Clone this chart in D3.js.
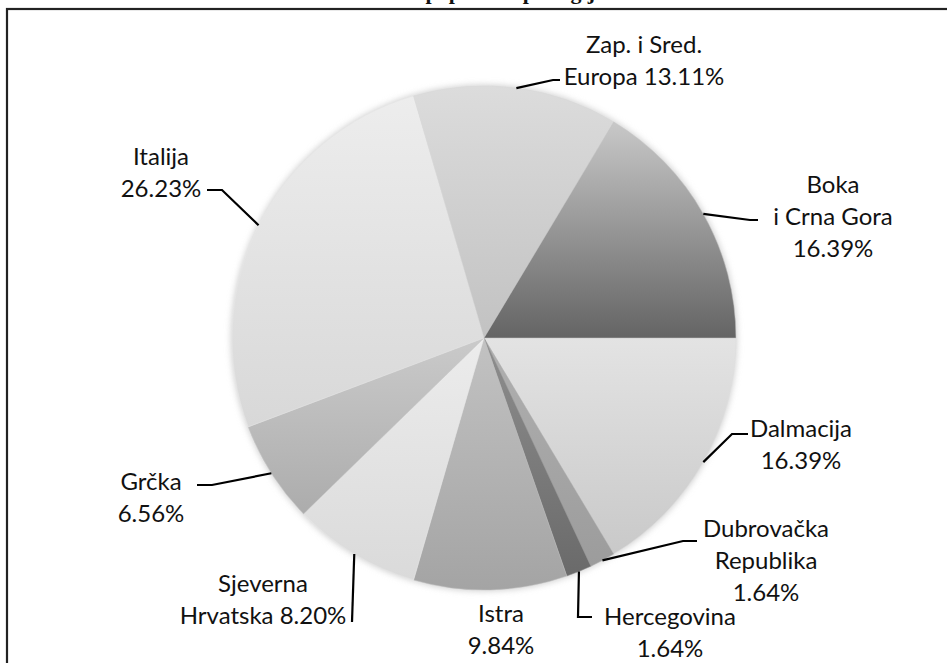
<!DOCTYPE html>
<html><head><meta charset="utf-8">
<script src="https://cdn.jsdelivr.net/npm/d3@7"></script>
<style>
html,body{margin:0;padding:0;background:#fff;}
svg{display:block;}
</style></head>
<body>
<svg id="chart" width="947" height="663"></svg>
<script>
// ---- data (clockwise from 3 o'clock) ----
const categories = ["Dalmacija","Dubrovačka Republika","Hercegovina","Istra","Sjeverna Hrvatska","Grčka","Italija","Zap. i Sred. Europa","Boka i Crna Gora"];
const counts = [10, 1, 1, 6, 5, 4, 16, 8, 10];
const percentLabels = ["16.39%","1.64%","1.64%","9.84%","8.20%","6.56%","26.23%","13.11%","16.39%"];
const labelLines = [
  ["Dalmacija","16.39%"],
  ["Dubrovačka","Republika","1.64%"],
  ["Hercegovina","1.64%"],
  ["Istra","9.84%"],
  ["Sjeverna","Hrvatska 8.20%"],
  ["Grčka","6.56%"],
  ["Italija","26.23%"],
  ["Zap. i Sred.","Europa 13.11%"],
  ["Boka","i Crna Gora","16.39%"]
];
const topColors = ["#e3e3e3","#b0b0b0","#8e8e8e","#c2c2c2","#ececec","#cacaca","#ededed","#dcdcdc","#c8c8c8"];
const botColors = ["#c9c9c9","#9c9c9c","#6a6a6a","#a4a4a4","#dadada","#acacac","#d8d8d8","#c2c2c2","#646464"];
const titleText = "Udio popisanih po regijama";

// ---- layout ----
const cx = 484, cy = 338, R = 252;
// label layout: [textX, firstBaseline, anchor, elbowX, elbowY, endX]
const labelLayout = [
  [801, 437, "middle", 732, 434, 748],
  [766, 537, "middle", 683, 541, 697],
  [670, 625, "middle", 578, 617, 592],
  [501, 622, "middle", null, null, null],
  [263, 592, "middle", 352, 622, 352],
  [151, 490, "middle", 212, 485, 197],
  [161, 165, "middle", 222, 190, 207],
  [644, 53, "middle", 553, 80, 560],
  [833, 193, "middle", 750, 220, 758]
];
const lineGap = 32;

const svg = d3.select("#chart");
const defs = svg.append("defs");

// frame
svg.append("rect").attr("x",7).attr("y",9).attr("width",960).attr("height",680)
  .attr("fill","none").attr("stroke","#222").attr("stroke-width",2.2);

// title (cropped at top, as in the reference)
svg.append("text").attr("x",505).attr("y",-1).attr("text-anchor","middle")
  .attr("font-family","Liberation Serif, Times New Roman, serif").attr("font-weight","bold")
  .attr("font-size",22).attr("fill","#111").text(titleText);

// shadow filter
const f = defs.append("filter").attr("id","sh").attr("x","-10%").attr("y","-10%").attr("width","120%").attr("height","120%");
f.append("feGaussianBlur").attr("stdDeviation",3);

categories.forEach((c,i)=>{
  const g = defs.append("linearGradient").attr("id","g"+i).attr("x1",0).attr("y1",0).attr("x2",0).attr("y2",1);
  g.append("stop").attr("offset","0%").attr("stop-color",topColors[i]);
  g.append("stop").attr("offset","100%").attr("stop-color",botColors[i]);
});

const pie = d3.pie().sort(null).value(d=>d)
  .startAngle(Math.PI/2).endAngle(Math.PI/2 + 2*Math.PI);
const arcs = pie(counts);
const arc = d3.arc().innerRadius(0).outerRadius(R);

const gp = svg.append("g").attr("transform",`translate(${cx},${cy})`);
gp.append("circle").attr("r",R+1).attr("fill","#cfcfcf").attr("filter","url(#sh)");
gp.selectAll("path.slice").data(arcs).enter().append("path")
  .attr("class","slice").attr("d",arc)
  .attr("fill",(d,i)=>`url(#g${i})`)
  .attr("stroke",(d,i)=>d3.color(topColors[i]).darker(0.05)).attr("stroke-width",0.5);

// leaders
arcs.forEach((d,i)=>{
  const L = labelLayout[i];
  if (L[3]===null) return;
  const a = (d.startAngle + d.endAngle)/2;
  const sx = cx + Math.sin(a)*R, sy = cy - Math.cos(a)*R;
  svg.append("path")
    .attr("d",`M${sx},${sy}L${L[3]},${L[4]}L${L[5]},${L[4]}`)
    .attr("fill","none").attr("stroke","#000").attr("stroke-width",2.2);
});

// labels
const lab = svg.append("g").attr("font-family","Lato, 'Open Sans', sans-serif").attr("font-size",24).attr("fill","#111");
labelLines.forEach((lines,i)=>{
  const L = labelLayout[i];
  const t = lab.append("text").attr("text-anchor",L[2]);
  lines.forEach((s,j)=>{
    t.append("tspan").attr("x",L[0]).attr("y",L[1]+j*lineGap).text(s);
  });
});
</script>
</body></html>
